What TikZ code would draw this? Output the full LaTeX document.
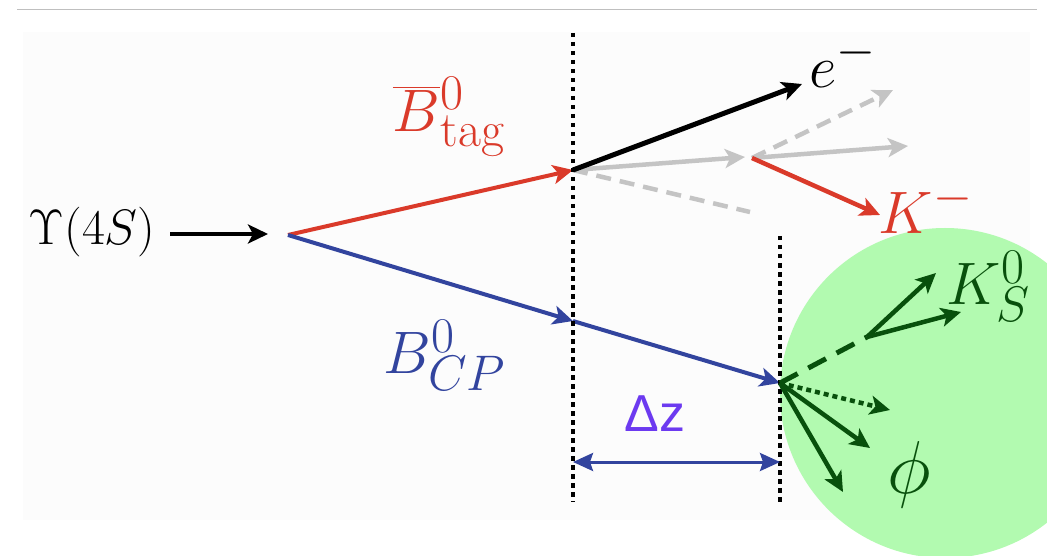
\documentclass[tikz,border=0pt]{standalone}
\usepackage{fontspec}
\usetikzlibrary{arrows.meta}
\newfontfamily\arialf{Liberation Sans}
\definecolor{cred}{RGB}{218,58,42}
\definecolor{cblue}{RGB}{50,68,158}
\definecolor{cgreen}{RGB}{8,80,12}
\definecolor{cfill}{RGB}{178,250,176}
\definecolor{cgray}{RGB}{196,196,196}
\definecolor{cviolet}{RGB}{108,58,240}
\begin{document}
\begin{tikzpicture}[x=1pt,y=-1pt,
  tip/.style={-{Stealth[length=20pt,width=19pt,inset=5pt]}},
  arr/.style={tip,line width=4.5pt},
  vline/.style={line width=4pt,dash pattern=on 4.5pt off 4.5pt},
  gdash/.style={dash pattern=on 15pt off 9pt},
  lab/.style={inner sep=0pt,font=\Huge,scale=2.41,transform shape}]
\useasboundingbox (0,0) rectangle (1047,556);
\fill[black!1] (23,32) rectangle (1030,520);
\draw[black!25,line width=1.5pt] (17,9.5) -- (1037,9.5);
\begin{scope}
\clip (0,0) rectangle (1047,556);
\fill[cfill] (945,393) circle (165pt);
\end{scope}
% coordinates
\coordinate (U1) at (170,234);
\coordinate (U2) at (268,234);
\coordinate (V0) at (288,235);
\coordinate (T) at (573,170);
\coordinate (M) at (573,321);
\coordinate (C) at (780,383);
\coordinate (D) at (752,158);
\coordinate (E) at (802,84);
\coordinate (G1) at (745,157);
\coordinate (G2) at (750,212);
\coordinate (G3) at (893,90);
\coordinate (G4) at (908,146);
\coordinate (Kend) at (880,215);
\coordinate (KS) at (867,337);
\coordinate (KS1) at (936,273);
\coordinate (KS2) at (961,312);
\coordinate (P1) at (890,410);
\coordinate (P2) at (870,448);
\coordinate (P3) at (843,492);
\coordinate (L1t) at (573,33);
\coordinate (L1b) at (573,502);
\coordinate (L2t) at (780,236);
\coordinate (L2b) at (780,502);
\coordinate (A1) at (573,462);
\coordinate (A2) at (780,462);
% labels
\node[lab,scale=0.83] (ups) at (92,232) {$\Upsilon(4S)$};
\node[lab,text=cred] (btag) at (449,117) {$\overline{B}{}^0_{\mathrm{tag}}$};
\node[lab,text=cblue] (bcp) at (445,355) {$B^0_{CP}$};
\node[lab] (el) at (843,62) {$e^-$};
\node[lab,text=cred] (km) at (926,208) {$K^-$};
\node[lab,text=cgreen] (ks) at (989,286) {$K^0_S$};
\node[lab,text=cgreen,scale=1.25] (phi) at (909,475) {$\phi$};
\node[inner sep=0pt,text=cviolet,font=\arialf\fontsize{52}{58}\selectfont] (dz) at (655,414) {Δz};
% gray tracks
\draw[cgray,arr] (T) -- (G1);
\draw[cgray,line width=4.5pt,gdash] (T) -- (G2);
\draw[cgray,arr,gdash] (D) -- (G3);
\draw[cgray,arr] (D) -- (G4);
% main tracks
\draw[black,arr] (U1) -- (U2);
\draw[cred,arr,line width=4pt] (V0) -- (T);
\draw[cblue,arr,line width=4pt] (V0) -- (M);
\draw[cblue,arr,line width=4pt] (M) -- (C);
\draw[black,arr,line width=5pt] (T) -- (E);
\draw[cred,arr] (D) -- (Kend);
% vertical dotted lines
\draw[vline] (L1t) -- (L1b);
\draw[vline] (L2t) -- (L2b);
% green decay
\draw[cgreen,line width=5pt,dash pattern=on 20pt off 12pt] (C) -- (KS);
\draw[cgreen,arr] (KS) -- (KS1);
\draw[cgreen,arr] (KS) -- (KS2);
\draw[cgreen,arr,dash pattern=on 5pt off 4pt] (C) -- (P1);
\draw[cgreen,arr] (C) -- (P2);
\draw[cgreen,arr] (C) -- (P3);
% delta z
\draw[cblue,line width=3pt,{Stealth[length=20pt,width=18pt,inset=3pt]}-{Stealth[length=20pt,width=18pt,inset=3pt]}] (A1) -- (A2);
\end{tikzpicture}
\end{document}
